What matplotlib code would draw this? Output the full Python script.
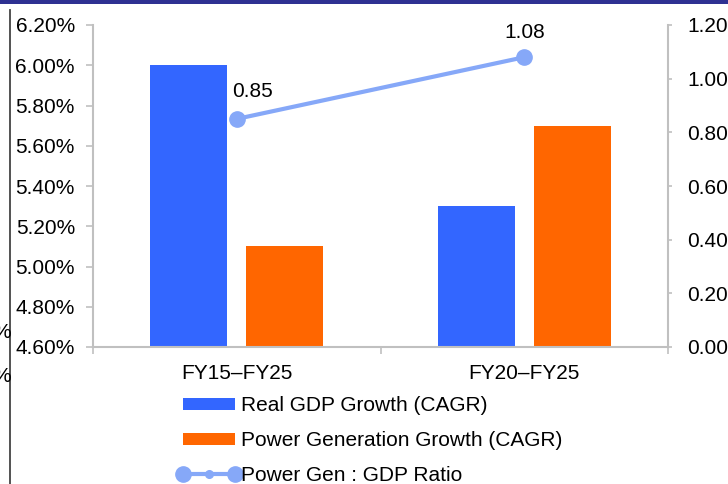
import matplotlib
matplotlib.use("Agg")
import matplotlib.pyplot as plt
from matplotlib.patches import Patch, Rectangle
from matplotlib.lines import Line2D
from matplotlib.legend_handler import HandlerBase
import numpy as np

plt.rcParams['font.family'] = ['Liberation Sans', 'DejaVu Sans']

categories = ["FY15\u2013FY25", "FY20\u2013FY25"]
gdp_growth = [6.00, 5.30]
power_growth = [5.10, 5.70]
ratio = [0.85, 1.08]
ratio_labels = ["0.85", "1.08"]
left_ticks = [4.60, 4.80, 5.00, 5.20, 5.40, 5.60, 5.80, 6.00, 6.20]
right_ticks = [0.00, 0.20, 0.40, 0.60, 0.80, 1.00, 1.20]

blue = "#3366FF"
orange = "#FF6600"
line_c = "#86A8F8"
gray = "#C0C0C0"
FS = 15

fig = plt.figure(figsize=(7.28, 4.84), dpi=100)
ax = fig.add_axes([93/728, 1-347/484, (668-93)/728, (347-25)/484])
ax2 = ax.twinx()

x = np.arange(len(categories))
w = 0.268
ax.bar(x - 0.167, gdp_growth, width=w, color=blue, zorder=2)
ax.bar(x + 0.167, power_growth, width=w, color=orange, zorder=2)
ax.set_xlim(-0.5, 1.5)
ax.set_ylim(4.6, 6.2)
ax.set_yticks(left_ticks)
ax.set_yticklabels([f"{v:.2f}%" for v in left_ticks])
ax.set_xticks(x)
ax.set_xticklabels(categories)
ax.set_xticks([-0.5, 0.5, 1.5], minor=True)
ax.tick_params(axis='x', which='major', length=0, pad=12, labelsize=FS)
ax.tick_params(axis='x', which='minor', length=5, color=gray, width=1.2)
ax.tick_params(axis='y', length=5, color=gray, width=1.2, pad=8, labelsize=FS)

ax2.plot(x, ratio, color=line_c, lw=3, marker='o', ms=11, zorder=3)
ax2.set_ylim(0, 1.2)
ax2.set_yticks(right_ticks)
ax2.set_yticklabels([f"{v:.2f}" for v in right_ticks])
ax2.tick_params(axis='y', length=3, color=gray, width=1.2, pad=11, labelsize=FS)
ax2.annotate(ratio_labels[0], (x[0], ratio[0]), xytext=(11, 20), textcoords='offset points',
             ha='center', va='center', fontsize=FS)
ax2.annotate(ratio_labels[1], (x[1], ratio[1]), xytext=(0, 17.5), textcoords='offset points',
             ha='center', va='center', fontsize=FS)

for a in (ax, ax2):
    for s in a.spines.values():
        s.set_color(gray)
        s.set_linewidth(1.5)
    a.spines['top'].set_visible(False)
ax2.spines['left'].set_visible(False)
ax2.spines['bottom'].set_visible(False)
ax.spines['right'].set_visible(False)


class LineMarkerHandler(HandlerBase):
    def create_artists(self, legend, orig_handle, xdescent, ydescent, width, height, fontsize, trans):
        y = height / 2 - ydescent
        x0, x1 = -xdescent, -xdescent + width
        ln = Line2D([x0, x1], [y, y], color=line_c, lw=3, transform=trans)
        ends = Line2D([x0, x1], [y, y], lw=0, marker='o', ms=11, color=line_c, transform=trans)
        mid = Line2D([(x0 + x1) / 2], [y], lw=0, marker='o', ms=5.5, color=line_c, transform=trans)
        return [ln, ends, mid]


h1 = Patch(facecolor=blue, edgecolor='none')
h2 = Patch(facecolor=orange, edgecolor='none')
h3 = Line2D([], [], color=line_c)
leg = fig.legend([h1, h2, h3],
                 ["Real GDP Growth (CAGR)", "Power Generation Growth (CAGR)", "Power Gen : GDP Ratio"],
                 loc='upper left', bbox_to_anchor=(183/728, 1-396/484), frameon=False,
                 fontsize=FS, handlelength=2.5, handleheight=0.5, handletextpad=0.3,
                 labelspacing=0.77, borderpad=0, borderaxespad=0,
                 handler_map={h3: LineMarkerHandler()})

# screenshot edge artifacts
fig.patches.append(Rectangle((0, 1-4/484), 1, 4/484, transform=fig.transFigure,
                             facecolor="#2E3192", edgecolor='none'))
fig.lines.append(Line2D([9.5/728, 9.5/728], [0, 1-10/484], transform=fig.transFigure,
                        color="#444444", lw=1.3))
fig.text(-8/728, 1-333/484, "%", fontsize=FS, va='center', ha='left')
fig.text(-8/728, 1-376/484, "%", fontsize=FS, va='center', ha='left')

fig.savefig("out.png", dpi=100)
